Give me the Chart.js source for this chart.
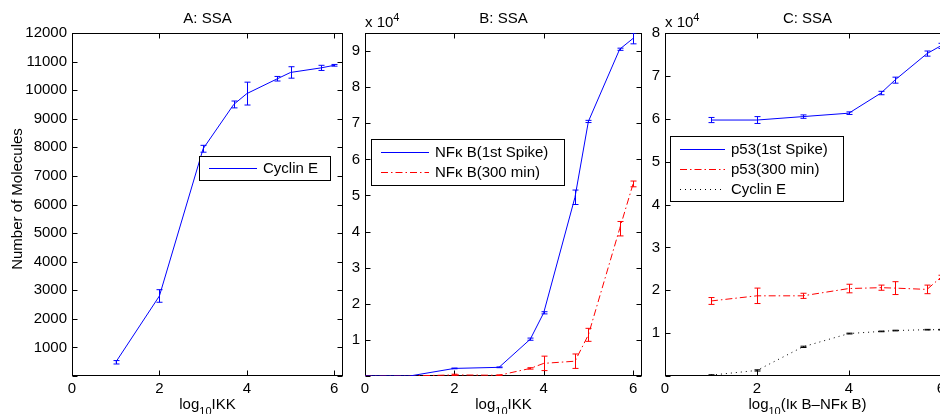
<!DOCTYPE html>
<html>
<head>
<meta charset="utf-8">
<script src="https://cdn.jsdelivr.net/npm/chart.js@4.4.0/dist/chart.umd.min.js"></script>
<style>
  html, body { margin:0; padding:0; background:#fff; overflow:hidden; }
  #wrap { position:relative; width:940px; height:414px; overflow:hidden; }
  canvas { position:absolute; top:0; }
</style>
</head>
<body>
<div id="wrap">
  <canvas id="chartA" width="345" height="414" style="left:0px"></canvas>
  <canvas id="chartB" width="315" height="414" style="left:330px"></canvas>
  <canvas id="chartC" width="320" height="414" style="left:640px"></canvas>
</div>
<script>
// panel A : Cyclin E vs log10 IKK
const xA = [1, 2, 3, 3.7, 4, 4.7, 5, 5.7, 6];
const cyclinA = [480, 2800, 7950, 9500, 9880, 10400, 10620, 10780, 10870];
const cyclinAErr = [60, 220, 120, 120, 400, 80, 200, 90, 30];

// panel B : NFkB vs log10 IKK
const xB = [0, 1, 2, 3, 3.7, 4, 4.7, 5, 5.7, 6];
const nfkbSpike = [0, 0, 2100, 2400, 10200, 17500, 49500, 70500, 90500, 93500];
const nfkbSpikeErr = [0, 0, 100, 100, 300, 300, 2000, 300, 300, 1500];
const nfkb300 = [0, 0, 300, 200, 2100, 3500, 4100, 11400, 40800, 53200];
const nfkb300Err = [0, 0, 200, 100, 200, 2000, 2000, 1800, 2000, 800];

// panel C : p53 / Cyclin E vs log10 IkB-NFkB
const xC = [1, 2, 3, 4, 4.7, 5, 5.7, 6];
const p53Spike = [59700, 59700, 60500, 61300, 66000, 69000, 75200, 77000];
const p53SpikeErr = [600, 800, 400, 300, 400, 700, 600, 600];
const p53300 = [17500, 18700, 18700, 20400, 20600, 20500, 20200, 23000];
const p53300Err = [800, 1800, 600, 1000, 600, 1500, 1000, 500];
const cyclinC = [200, 1300, 6800, 9900, 10400, 10600, 10800, 10800];
const cyclinCErr = [100, 150, 150, 100, 80, 80, 80, 80];

// tick labels
const xTicks = [0, 2, 4, 6];
const yTicksA = [0, 1000, 2000, 3000, 4000, 5000, 6000, 7000, 8000, 9000, 10000, 11000, 12000];
const yTicksB = [0, 10000, 20000, 30000, 40000, 50000, 60000, 70000, 80000, 90000];
const yTicksC = [0, 10000, 20000, 30000, 40000, 50000, 60000, 70000, 80000];

const FONT = "'Liberation Sans', Arial, Helvetica, sans-serif";

function pts(xs, ys) {
    return xs.map((x, i) => ({x: x, y: ys[i]}));
}

// text with sub/superscript pieces
function drawParts(ctx, parts, x, y, align) {
    let total = 0;
    parts.forEach(p => {
        ctx.font = (p.sub || p.sup ? 11 : 15) + 'px ' + FONT;
        p.w = ctx.measureText(p.t).width;
        total += p.w;
    });
    let cx = align === 'center' ? x - total / 2 : x;
    ctx.textAlign = 'left';
    ctx.textBaseline = 'alphabetic';
    parts.forEach(p => {
        ctx.font = (p.sub || p.sup ? 11 : 15) + 'px ' + FONT;
        let dy = p.sub ? 6 : (p.sup ? -6 : 0);
        ctx.fillText(p.t, cx, y + dy);
        cx += p.w;
    });
}

const matlabAxes = {
    id: 'matlabAxes',
    beforeDatasetsDraw(chart) {
        // box with inward ticks, drawn under the curves
        const {ctx, chartArea: a} = chart;
        const xs = chart.scales.x, ys = chart.scales.y;
        const L = Math.round(a.left) + 0.5, R = Math.round(a.right) - 0.5;
        const T = Math.round(a.top) + 0.5, B = Math.round(a.bottom) - 0.5;
        ctx.save();
        ctx.strokeStyle = '#000';
        ctx.lineWidth = 1;
        ctx.setLineDash([]);
        ctx.strokeRect(L, T, R - L, B - T);
        ctx.beginPath();
        xs.ticks.forEach(t => {
            const px = Math.round(xs.getPixelForValue(t.value)) + 0.5;
            ctx.moveTo(px, B); ctx.lineTo(px, B - 5);
            ctx.moveTo(px, T); ctx.lineTo(px, T + 5);
        });
        ys.ticks.forEach(t => {
            const py = Math.round(ys.getPixelForValue(t.value)) + 0.5;
            ctx.moveTo(L, py); ctx.lineTo(L + 5, py);
            ctx.moveTo(R, py); ctx.lineTo(R - 5, py);
        });
        ctx.stroke();
        ctx.restore();
    },
    afterDatasetsDraw(chart) {
        const {ctx, chartArea: a} = chart;
        const xs = chart.scales.x, ys = chart.scales.y;
        ctx.save();
        ctx.beginPath();
        ctx.rect(a.left, a.top, a.right - a.left, a.bottom - a.top);
        ctx.clip();
        chart.data.datasets.forEach(ds => {
            if (!ds.errors) return;
            ctx.strokeStyle = ds.borderColor;
            ctx.lineWidth = 1;
            ctx.setLineDash([]);
            ds.data.forEach((p, i) => {
                const e = ds.errors[i];
                if (!e) return;
                const px = Math.round(xs.getPixelForValue(p.x)) + 0.5;
                const y0 = ys.getPixelForValue(p.y - e);
                const y1 = ys.getPixelForValue(p.y + e);
                ctx.beginPath();
                ctx.moveTo(px, y0); ctx.lineTo(px, y1);
                ctx.moveTo(px - 3, y0); ctx.lineTo(px + 3, y0);
                ctx.moveTo(px - 3, y1); ctx.lineTo(px + 3, y1);
                ctx.stroke();
            });
        });
        ctx.restore();
    },
    afterDraw(chart, args, opts) {
        const {ctx, chartArea: a} = chart;
        ctx.save();
        ctx.fillStyle = '#000';
        // title
        ctx.font = '15px ' + FONT;
        ctx.textAlign = 'center';
        ctx.textBaseline = 'middle';
        ctx.fillText(opts.title, (a.left + a.right) / 2, 19);
        // x label
        drawParts(ctx, opts.xlabel, (a.left + a.right) / 2, 409, 'center');
        // exponent
        if (opts.exponent) {
            drawParts(ctx, [{t: 'x 10'}, {t: '4', sup: true}], a.left, 27, 'left');
        }
        // y label
        if (opts.ylabel) {
            ctx.save();
            ctx.translate(18, 199);
            ctx.rotate(-Math.PI / 2);
            ctx.font = '15px ' + FONT;
            ctx.textAlign = 'center';
            ctx.textBaseline = 'middle';
            ctx.fillText(opts.ylabel, 0, 0);
            ctx.restore();
        }
        // legend box
        const lg = opts.legend;
        if (lg) {
            const n = chart.data.datasets.length;
            ctx.lineWidth = 1;
            ctx.fillStyle = '#fff';
            ctx.fillRect(lg.x + 0.5, lg.y + 0.5, lg.w, lg.h);
            ctx.strokeStyle = '#000';
            ctx.strokeRect(lg.x + 0.5, lg.y + 0.5, lg.w, lg.h);
            const first = lg.y + (lg.h - n * 20) / 2 + 10;
            chart.data.datasets.forEach((ds, i) => {
                const ry = Math.round(first + i * 20) + 0.5;
                ctx.strokeStyle = ds.borderColor;
                ctx.setLineDash(ds.borderDash || []);
                ctx.beginPath();
                ctx.moveTo(lg.x + 10, ry);
                ctx.lineTo(lg.x + lg.sample, ry);
                ctx.stroke();
                ctx.setLineDash([]);
                ctx.fillStyle = '#000';
                ctx.font = '15px ' + FONT;
                ctx.textAlign = 'left';
                ctx.textBaseline = 'middle';
                ctx.fillText(ds.label, lg.x + lg.sample + 6, ry);
            });
        }
        ctx.restore();
    }
};

function makeChart(id, cfg) {
    return new Chart(document.getElementById(id), {
        type: 'line',
        data: {datasets: cfg.datasets},
        options: {
            responsive: false,
            animation: false,
            layout: {padding: {top: 33, right: cfg.padRight, left: 0, bottom: 0}},
            elements: {point: {radius: 0}, line: {borderWidth: 1, tension: 0}},
            scales: {
                x: {
                    type: 'linear', min: 0, max: 6.2,
                    afterBuildTicks: s => { s.ticks = xTicks.map(v => ({value: v})); },
                    afterFit: s => { s.height = 38; },
                    grid: {display: false, drawTicks: false},
                    border: {display: false},
                    ticks: {font: {family: FONT, size: 15}, color: '#000', padding: 4, maxRotation: 0, autoSkip: false,
                        callback: v => String(v)}
                },
                y: {
                    type: 'linear', min: 0, max: cfg.yMax,
                    afterBuildTicks: s => { s.ticks = cfg.yTicks.map(v => ({value: v})); },
                    afterFit: s => { s.width = cfg.plotLeft; },
                    grid: {display: false, drawTicks: false},
                    border: {display: false},
                    ticks: {font: {family: FONT, size: 15}, color: '#000', padding: 5, autoSkip: false,
                        callback: v => v === 0 ? '' : String(v / cfg.div)}
                }
            },
            plugins: {
                legend: {display: false},
                tooltip: {enabled: false},
                matlabAxes: cfg.deco
            }
        },
        plugins: [matlabAxes]
    });
}

const dashDot = [7, 3, 1.5, 3];
const dotted = [1, 4];

makeChart('chartA', {
    yMax: 12000, yTicks: yTicksA, div: 1, plotLeft: 72, padRight: 2,
    datasets: [
        {label: 'Cyclin E', data: pts(xA, cyclinA), errors: cyclinAErr, borderColor: '#0000ff'}
    ],
    deco: {
        title: 'A: SSA',
        ylabel: 'Number of Molecules',
        xlabel: [{t: 'log'}, {t: '10', sub: true}, {t: 'IKK'}],
        legend: {x: 199, y: 156, w: 131, h: 24, sample: 58}
    }
});

makeChart('chartB', {
    yMax: 95000, yTicks: yTicksB, div: 10000, plotLeft: 35, padRight: 3,
    datasets: [
        {label: 'NF\u03ba B(1st Spike)', data: pts(xB, nfkbSpike), errors: nfkbSpikeErr, borderColor: '#0000ff'},
        {label: 'NF\u03ba B(300 min)', data: pts(xB, nfkb300), errors: nfkb300Err, borderColor: '#ff0000', borderDash: dashDot}
    ],
    deco: {
        title: 'B: SSA',
        exponent: true,
        xlabel: [{t: 'log'}, {t: '10', sub: true}, {t: 'IKK'}],
        legend: {x: 41, y: 139, w: 193, h: 46, sample: 58}
    }
});

makeChart('chartC', {
    yMax: 80000, yTicks: yTicksC, div: 10000, plotLeft: 25, padRight: 10,
    datasets: [
        {label: 'p53(1st Spike)', data: pts(xC, p53Spike), errors: p53SpikeErr, borderColor: '#0000ff'},
        {label: 'p53(300 min)', data: pts(xC, p53300), errors: p53300Err, borderColor: '#ff0000', borderDash: dashDot},
        {label: 'Cyclin E', data: pts(xC, cyclinC), errors: cyclinCErr, borderColor: '#000000', borderDash: dotted}
    ],
    deco: {
        title: 'C: SSA',
        exponent: true,
        xlabel: [{t: 'log'}, {t: '10', sub: true}, {t: '(I\u03ba B\u2013NF\u03ba B)'}],
        legend: {x: 30, y: 136, w: 173, h: 65, sample: 55}
    }
});
</script>
</body>
</html>
